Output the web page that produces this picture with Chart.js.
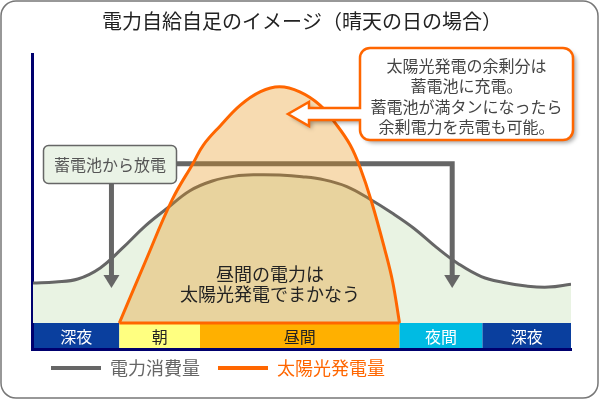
<!DOCTYPE html>
<html>
<head>
<meta charset="utf-8">
<script src="https://cdn.jsdelivr.net/npm/chart.js@4.4.0/dist/chart.umd.min.js"></script>
<style>
  body { margin: 0; background: #fff; }
  #wrap { width: 600px; height: 400px; position: relative; }
</style>
</head>
<body>
<div id="wrap"><canvas id="chart"></canvas></div>
<script>
var JP = '"Noto Sans CJK JP", "Noto Sans", sans-serif';

// 電力消費量 (時刻 0〜24時, 相対値)
var hours = [0, 1, 2, 3, 4, 5, 6, 7, 8, 9, 10, 11, 12, 13, 14, 15, 16, 17, 18, 19, 20, 21, 22, 23, 24];
var consumption = [14.8, 15.2, 16.3, 20.4, 27.8, 35.9, 42.6, 49.0, 52.6, 54.4, 54.9, 54.8, 54.2, 53.0, 50.5, 46.0, 40.8, 35.0, 28.0, 21.8, 17.2, 15.0, 13.7, 13.3, 14.4];

// 太陽光発電量
var solarHours = [3.85, 5.0, 6.2, 7.15, 7.6, 8.35, 9.25, 10.15, 11.0, 11.9, 12.8, 13.55, 14.15, 14.6, 15.1, 15.7, 16.05, 16.35];
var solarValues = [0, 22.5, 45.5, 59.3, 65.9, 73, 80.7, 85.7, 87.5, 85.6, 80.7, 73.3, 65.9, 57.4, 45, 27, 15, 0];

// 時間帯の帯
var bandEdges = [0, 3.85, 7.45, 16.35, 20.05, 24];
var bandLabels = ['深夜', '朝', '昼間', '夜間', '深夜'];
var bandColors = ['#0a3f9e', '#ffff80', '#ffb000', '#00bbe3', '#0a3f9e'];
var bandTextColors = ['#fff', '#222', '#222', '#fff', '#fff'];

var calloutLines = ['太陽光発電の余剰分は', '蓄電池に充電。', '蓄電池が満タンになったら', '余剰電力を売電も可能。'];

function pts(xs, ys) {
  return xs.map(function (x, i) { return { x: x, y: ys[i] }; });
}

function rrect(ctx, x, y, w, h, r) {
  ctx.beginPath();
  ctx.moveTo(x + r, y);
  ctx.arcTo(x + w, y, x + w, y + h, r);
  ctx.arcTo(x + w, y + h, x, y + h, r);
  ctx.arcTo(x, y + h, x, y, r);
  ctx.arcTo(x, y, x + w, y, r);
  ctx.closePath();
}

// 外枠
var framePlugin = {
  id: 'frame',
  beforeDraw: function (chart) {
    var ctx = chart.ctx;
    ctx.save();
    ctx.fillStyle = '#fff';
    ctx.fillRect(0, 0, chart.width, chart.height);
    rrect(ctx, 1, 1, chart.width - 3, chart.height - 3, 15);
    ctx.strokeStyle = '#777';
    ctx.lineWidth = 1.5;
    ctx.stroke();
    ctx.restore();
  }
};

// 下の時間帯の帯
var bandsPlugin = {
  id: 'bands',
  beforeDatasetsDraw: function (chart) {
    var ctx = chart.ctx, xs = chart.scales.x, a = chart.chartArea;
    var top = a.bottom, h = 25;
    ctx.save();
    for (var i = 0; i < bandLabels.length; i++) {
      var x0 = xs.getPixelForValue(bandEdges[i]);
      var x1 = xs.getPixelForValue(bandEdges[i + 1]);
      ctx.fillStyle = bandColors[i];
      ctx.fillRect(x0, top, x1 - x0, h);
      ctx.fillStyle = bandTextColors[i];
      ctx.font = '16px ' + JP;
      ctx.textAlign = 'center';
      ctx.textBaseline = 'middle';
      ctx.fillText(bandLabels[i], (x0 + x1) / 2, top + h / 2 + 1);
    }
    ctx.strokeStyle = '#00006e';
    ctx.lineWidth = 3;
    ctx.beginPath();
    ctx.moveTo(a.left - 0.5, a.top);
    ctx.lineTo(a.left - 0.5, top + h + 3);
    ctx.moveTo(a.left - 2, top + h + 1.5);
    ctx.lineTo(a.right + 1, top + h + 1.5);
    ctx.stroke();
    ctx.restore();
  }
};

// 「蓄電池から放電」の矢印 (消費カーブの上、発電カーブの下)
var dischargePlugin = {
  id: 'discharge',
  afterDatasetDraw: function (chart, args) {
    if (args.index !== 2) return;
    var ctx = chart.ctx, xs = chart.scales.x, ys = chart.scales.y;
    var xL = xs.getPixelForValue(3.5), xR = xs.getPixelForValue(18.7);
    var yLine = ys.getPixelForValue(59), tip = ys.getPixelForValue(13);
    ctx.save();
    ctx.strokeStyle = '#666';
    ctx.fillStyle = '#666';
    ctx.lineWidth = 5;
    ctx.beginPath();
    ctx.moveTo(170, yLine);
    ctx.lineTo(xR, yLine);
    ctx.lineTo(xR, tip - 11);
    ctx.moveTo(xL, 180);
    ctx.lineTo(xL, tip - 11);
    ctx.stroke();
    [xL, xR].forEach(function (x) {
      ctx.beginPath();
      ctx.moveTo(x - 8, tip - 13);
      ctx.lineTo(x + 8, tip - 13);
      ctx.lineTo(x, tip);
      ctx.closePath();
      ctx.fill();
    });
    ctx.restore();
  }
};

// 吹き出しと文字
var notesPlugin = {
  id: 'notes',
  afterDatasetsDraw: function (chart) {
    var ctx = chart.ctx;
    ctx.save();
    ctx.textAlign = 'center';
    ctx.textBaseline = 'middle';

    // 蓄電池から放電
    rrect(ctx, 43.5, 145.5, 133, 38, 5);
    ctx.fillStyle = '#eaf3e6';
    ctx.fill();
    ctx.strokeStyle = '#666';
    ctx.lineWidth = 1.5;
    ctx.stroke();
    ctx.fillStyle = '#555';
    ctx.font = '16px ' + JP;
    ctx.fillText('蓄電池から放電', 110, 165);

    // 余剰分の吹き出し
    var bx = 360, by = 48, bw = 213, bh = 92, r = 10;
    ctx.beginPath();
    ctx.moveTo(bx + r, by);
    ctx.arcTo(bx + bw, by, bx + bw, by + bh, r);
    ctx.arcTo(bx + bw, by + bh, bx, by + bh, r);
    ctx.arcTo(bx, by + bh, bx, by, r);
    ctx.lineTo(bx, 120);
    ctx.lineTo(309, 120);
    ctx.lineTo(309, 126);
    ctx.lineTo(288, 114);
    ctx.lineTo(309, 102);
    ctx.lineTo(309, 108);
    ctx.lineTo(bx, 108);
    ctx.arcTo(bx, by, bx + bw, by, r);
    ctx.closePath();
    ctx.shadowColor = 'rgba(0,0,0,0.35)';
    ctx.shadowOffsetX = 3;
    ctx.shadowOffsetY = 3;
    ctx.shadowBlur = 4;
    ctx.fillStyle = '#fff';
    ctx.fill();
    ctx.shadowColor = 'transparent';
    ctx.strokeStyle = '#ff6600';
    ctx.lineWidth = 2.5;
    ctx.lineJoin = 'miter';
    ctx.stroke();
    ctx.fillStyle = '#444';
    ctx.font = '16px ' + JP;
    calloutLines.forEach(function (t, i) {
      ctx.fillText(t, bx + bw / 2, 66 + i * 20.3);
    });

    // 昼間の電力は…
    ctx.fillStyle = '#222';
    ctx.font = '18px ' + JP;
    ctx.fillText('昼間の電力は', 270, 274);
    ctx.fillText('太陽光発電でまかなう', 270, 294);
    ctx.restore();
  }
};

new Chart(document.getElementById('chart'), {
  type: 'line',
  data: {
    datasets: [{
      label: 'edge',
      data: [{ x: solarHours[0], y: 0 }, { x: solarHours[solarHours.length - 1], y: 0 }],
      borderColor: '#ff6600',
      borderWidth: 3,
      pointRadius: 0,
      fill: false,
      clip: false
    }, {
      label: '太陽光発電量',
      data: pts(solarHours, solarValues),
      borderColor: '#ff6600',
      borderWidth: 3,
      backgroundColor: 'rgba(232,146,18,0.33)',
      fill: 'origin',
      pointRadius: 0,
      tension: 0.4
    }, {
      label: '電力消費量',
      data: pts(hours, consumption),
      borderColor: '#666',
      borderWidth: 3,
      backgroundColor: '#e9f3e3',
      fill: 'origin',
      pointRadius: 0,
      tension: 0.4
    }]
  },
  options: {
    responsive: true,
    maintainAspectRatio: false,
    animation: false,
    events: [],
    layout: { padding: { left: 33, right: 29, top: 0, bottom: 13 } },
    scales: {
      x: {
        type: 'linear', min: 0, max: 24,
        grid: { display: false },
        border: { display: false },
        ticks: { display: false },
        afterFit: function (s) { s.height = 18; }
      },
      y: { type: 'linear', min: 0, max: 100, display: false }
    },
    plugins: {
      tooltip: { enabled: false },
      title: {
        display: true,
        text: '電力自給自足のイメージ（晴天の日の場合）',
        color: '#222',
        font: { family: JP, size: 20, weight: 'normal' },
        padding: { top: 9, bottom: 20 }
      },
      legend: {
        position: 'bottom',
        align: 'start',
        labels: {
          font: { family: JP, size: 18 },
          boxWidth: 50,
          boxHeight: 4,
          padding: 18,
          generateLabels: function () {
            return [
              { text: '電力消費量', fillStyle: '#666', strokeStyle: '#666', lineWidth: 0, fontColor: '#666', datasetIndex: 2, hidden: false },
              { text: '太陽光発電量', fillStyle: '#ff6600', strokeStyle: '#ff6600', lineWidth: 0, fontColor: '#ff6600', datasetIndex: 1, hidden: false }
            ];
          }
        }
      }
    }
  },
  plugins: [framePlugin, bandsPlugin, dischargePlugin, notesPlugin]
});
</script>
</body>
</html>
